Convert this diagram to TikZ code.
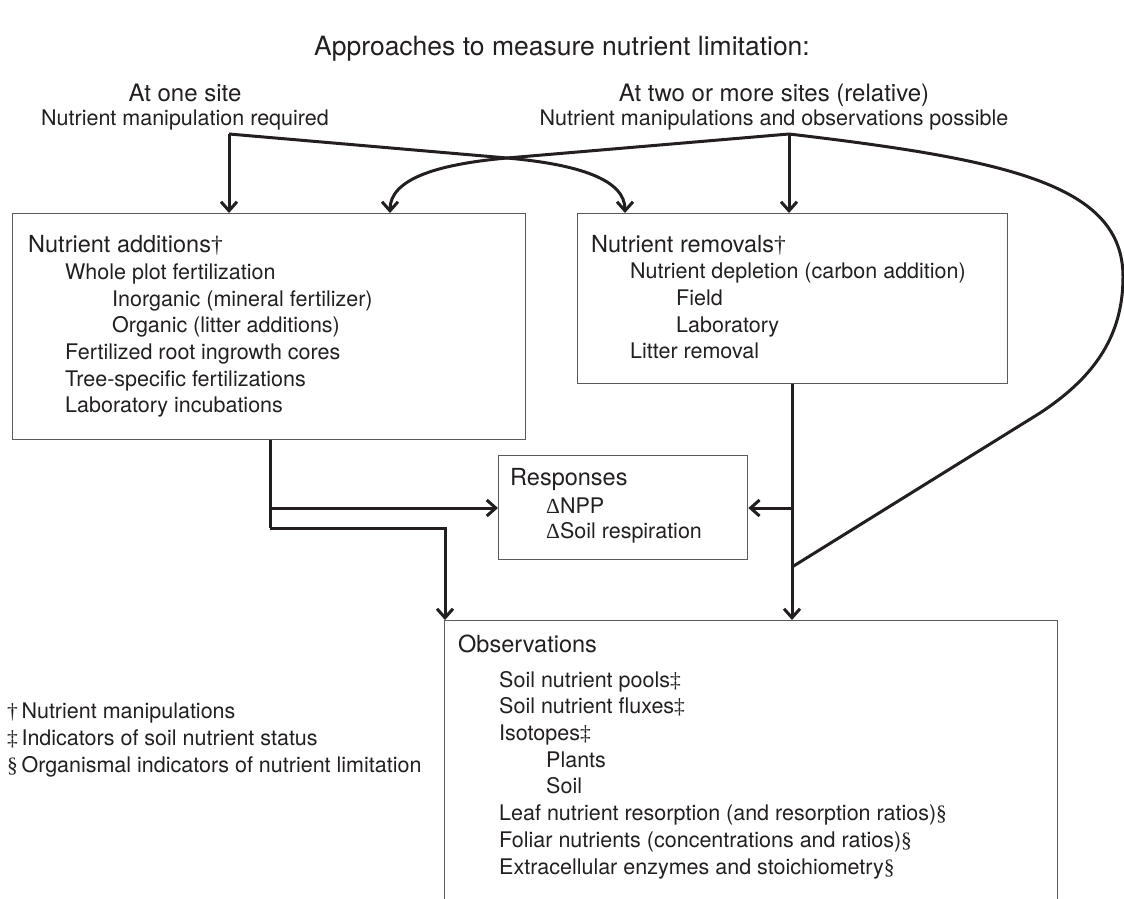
\documentclass[tikz,border=0pt]{standalone}
\usepackage{fontspec}
\setmainfont{TeX Gyre Heros}
\newfontfamily\symf{Liberation Serif}
\usetikzlibrary{arrows.meta,calc}
\definecolor{ink}{HTML}{231F20}
\definecolor{frame}{HTML}{5A5A5A}
\newcommand{\dg}{{\symf †}}
\newcommand{\ddg}{{\symf ‡}}
\newcommand{\secsym}{{\symf §}}
\newcommand{\dlt}{{\symf Δ}}
\begin{document}
\begin{tikzpicture}[x=1pt,y=-1pt,
  box/.style={draw=frame, line width=1.3pt, inner sep=0pt, anchor=north west},
  txt/.style={anchor=base west, inner sep=0pt, text=ink, font=\fontsize{21.5}{26}\selectfont},
  hdr/.style={txt, font=\fontsize{23.5}{28}\selectfont},
  ctr/.style={anchor=base, inner sep=0pt, text=ink, font=\fontsize{21.5}{26}\selectfont},
  conn/.style={draw=ink, line width=3pt},
  arr/.style={conn, -{Straight Barb[length=9pt,width=16pt]}}
]
\useasboundingbox (0,0) rectangle (1124,899);

% titles
\node[ctr, font=\fontsize{26.5}{30}\selectfont] (title) at (562,56) {Approaches to measure nutrient limitation:};
\node[ctr, font=\fontsize{24}{28}\selectfont] (one) at (185,101) {At one site};
\node[ctr] (onesub) at (185,125) {Nutrient manipulation required};
\node[ctr, font=\fontsize{24}{28}\selectfont] (two) at (774,101) {At two or more sites (relative)};
\node[ctr] (twosub) at (774,125) {Nutrient manipulations and observations possible};

% boxes
\node[box, minimum width=513pt, minimum height=226pt] (add) at (12,213) {};
\node[box, minimum width=430pt, minimum height=170pt] (rem) at (577,213) {};
\node[box, minimum width=249pt, minimum height=104pt] (resp) at (498,455) {};
\node[box, minimum width=613pt, minimum height=300pt] (obs) at (444,620) {};

% additions text
\node[hdr] (a0) at (28,252) {Nutrient additions\dg};
\node[txt] (a1) at (65,279) {Whole plot fertilization};
\node[txt] (a2) at (112,306) {Inorganic (mineral fertilizer)};
\node[txt] (a3) at (112,332) {Organic (litter additions)};
\node[txt] (a4) at (65,359) {Fertilized root ingrowth cores};
\node[txt] (a5) at (65,386) {Tree-specific fertilizations};
\node[txt] (a6) at (65,412) {Laboratory incubations};

% removals text
\node[hdr] (r0) at (591,252) {Nutrient removals\dg};
\node[txt] (r1) at (630,278) {Nutrient depletion (carbon addition)};
\node[txt] (r2) at (676,305) {Field};
\node[txt] (r3) at (676,332) {Laboratory};
\node[txt] (r4) at (630,358) {Litter removal};

% responses text
\node[hdr] (s0) at (510,485) {Responses};
\node[txt] (s1) at (546,513) {\dlt NPP};
\node[txt] (s2) at (546,538) {\dlt Soil respiration};

% observations text
\node[hdr] (o0) at (458,652) {Observations};
\node[txt] (o1) at (499,687) {Soil nutrient pools\ddg};
\node[txt] (o2) at (499,713) {Soil nutrient fluxes\ddg};
\node[txt] (o3) at (499,740) {Isotopes\ddg};
\node[txt] (o4) at (546,767) {Plants};
\node[txt] (o5) at (546,793) {Soil};
\node[txt] (o6) at (499,820) {Leaf nutrient resorption (and resorption ratios)\secsym};
\node[txt] (o7) at (499,847) {Foliar nutrients (concentrations and ratios)\secsym};
\node[txt] (o8) at (499,874) {Extracellular enzymes and stoichiometry\secsym};

% legend
\node[txt] (l1) at (7,718) {\dg\,Nutrient manipulations};
\node[txt] (l2) at (7,745) {\ddg\,Indicators of soil nutrient status};
\node[txt] (l3) at (7,772) {\secsym\,Organismal indicators of nutrient limitation};

% junction coordinates
\coordinate (jL) at (229,134);
\coordinate (jR) at (789,134);
\coordinate (X) at (507,158);
\coordinate (tA) at (390,0);
\coordinate (tR) at (625,0);
\coordinate (dA) at (270,0);
\coordinate (dR) at (792,0);
\coordinate (bA1) at (0,508);
\coordinate (bA2) at (0,528);
\coordinate (oA) at (445,0);
\coordinate (cE) at (792,567);

% top connectors
\draw[arr] (jL) -- (jL |- add.north);
\draw[arr] (jR) -- (jR |- rem.north);
\draw[arr] (jL) -- (X) .. controls (580,164.5) and (625,180) .. (tR |- rem.north);
\draw[arr] (jR) -- (X) .. controls (434,164.5) and (390,180) .. (tA |- add.north);
\draw[conn, line join=round] (jR) .. controls (1010,160) and (1123,185) .. (1123,277)
   .. controls (1123,340) and (1090,380) .. (1040,413) -- (cE);

% additions outputs
\draw[conn] (dA |- add.south) -- (dA |- bA2);
\draw[arr] (dA |- bA1) -- (resp.west |- bA1);
\draw[arr, line join=miter] (dA |- bA2) -- (oA |- bA2) -- (oA |- obs.north);

% removals outputs
\draw[arr] (dR |- rem.south) -- (dR |- obs.north);
\draw[arr] (dR |- bA1) -- (resp.east |- bA1);
\end{tikzpicture}
\end{document}
